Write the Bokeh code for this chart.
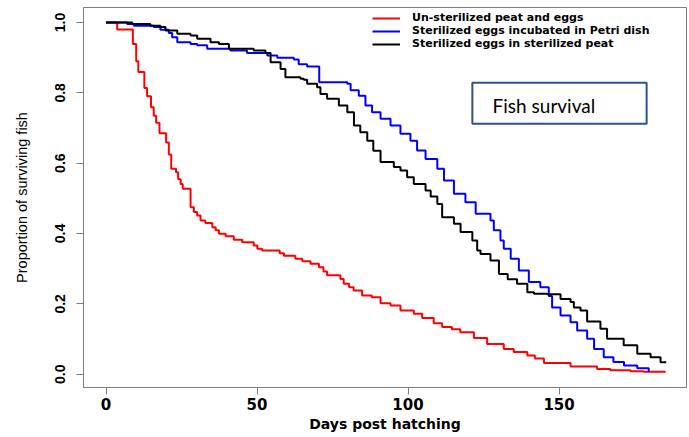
from bokeh.plotting import figure
from bokeh.models import Range1d, Legend, LegendItem, BoxAnnotation, Label, FixedTicker, NumeralTickFormatter
from bokeh.embed import file_html
from bokeh.resources import INLINE

# ---- data ----
red_days = [0, 3.7, 8.9, 10.0, 10.7, 12.7, 13.6, 14.9, 15.8, 16.6, 17.7, 19.9, 20.8, 21.6, 23.2, 23.9,
            24.7, 25.4, 28.0, 29.1, 30.2, 31.3, 32.9, 35.2, 36.3, 37.4, 39.6, 42.3, 45.1, 48.9, 50.1,
            51.7, 57.5, 58.9, 62.7, 65.0, 67.7, 70.5, 72.0, 73.2, 77.6, 78.7, 80.5, 82.0, 84.8, 88.0,
            90.9, 94.2, 97.5, 101.9, 104.7, 108.5, 111.3, 114.5, 117.3, 121.8, 126.2, 131.7, 135.0,
            139.5, 142.0, 145.0, 153.8, 162.6, 167.0, 173.7, 178.0, 185.3]
red_surv = [1.0, 0.98, 0.939, 0.89, 0.859, 0.814, 0.79, 0.759, 0.735, 0.715, 0.685, 0.659, 0.625, 0.584,
            0.574, 0.554, 0.541, 0.527, 0.475, 0.461, 0.451, 0.437, 0.430, 0.418, 0.409, 0.399, 0.392,
            0.382, 0.375, 0.366, 0.357, 0.352, 0.344, 0.337, 0.328, 0.321, 0.314, 0.304, 0.292, 0.281,
            0.271, 0.257, 0.247, 0.238, 0.224, 0.219, 0.202, 0.195, 0.181, 0.172, 0.160, 0.145, 0.134,
            0.128, 0.119, 0.103, 0.086, 0.072, 0.063, 0.053, 0.045, 0.032, 0.022, 0.015, 0.011, 0.0085,
            0.007, 0.007]

blue_days = [0, 7.0, 9.2, 15.8, 18.0, 20.8, 21.9, 23.6, 28.0, 30.2, 33.5, 41.2, 46.7, 53.4, 56.7, 62.2,
             63.8, 66.6, 70.6, 79.9, 81.0, 83.7, 85.9, 88.1, 90.9, 94.2, 97.5, 100.8, 103.0, 105.8,
             109.7, 111.9, 115.2, 119.0, 122.4, 127.3, 128.4, 130.6, 131.7, 134.0, 136.7, 140.0, 143.8,
             146.6, 147.7, 150.5, 153.8, 156.0, 159.3, 161.6, 164.8, 168.0, 171.5, 175.9, 179.7]
blue_surv = [1.0, 0.996, 0.991, 0.987, 0.979, 0.970, 0.958, 0.944, 0.939, 0.935, 0.925, 0.920, 0.913,
             0.906, 0.900, 0.895, 0.881, 0.875, 0.830, 0.826, 0.807, 0.792, 0.764, 0.745, 0.726, 0.707,
             0.684, 0.664, 0.636, 0.612, 0.584, 0.551, 0.513, 0.489, 0.456, 0.437, 0.409, 0.380, 0.357,
             0.328, 0.295, 0.262, 0.247, 0.222, 0.190, 0.167, 0.148, 0.124, 0.101, 0.072, 0.048, 0.035,
             0.025, 0.017, 0.006]

black_days = [0, 8.7, 14.7, 18.0, 19.7, 23.6, 28.0, 30.2, 34.6, 37.4, 40.7, 48.9, 52.8, 54.5, 57.8, 59.4,
              64.4, 65.5, 66.6, 69.9, 71.0, 73.2, 77.1, 79.9, 82.1, 84.2, 86.5, 88.5, 90.9, 95.3, 97.5,
              99.7, 101.9, 105.8, 107.5, 109.7, 111.3, 115.2, 117.4, 121.3, 122.9, 124.0, 127.3, 130.1,
              133.0, 136.1, 139.5, 141.7, 146.1, 150.5, 153.8, 154.9, 157.1, 159.3, 163.7, 165.9, 171.4,
              175.9, 180.3, 183.6, 185.5]
black_surv = [1.0, 0.996, 0.991, 0.987, 0.977, 0.968, 0.963, 0.954, 0.944, 0.939, 0.925, 0.920, 0.913,
              0.887, 0.868, 0.844, 0.840, 0.837, 0.826, 0.816, 0.797, 0.783, 0.764, 0.745, 0.707, 0.688,
              0.664, 0.635, 0.603, 0.589, 0.579, 0.560, 0.541, 0.522, 0.505, 0.484, 0.446, 0.428, 0.404,
              0.380, 0.352, 0.342, 0.323, 0.285, 0.270, 0.257, 0.233, 0.229, 0.227, 0.214, 0.205, 0.190,
              0.181, 0.150, 0.129, 0.101, 0.082, 0.058, 0.048, 0.034, 0.034]

series_names = ["Un-sterilized peat and eggs",
                "Sterilized eggs incubated in Petri dish",
                "Sterilized eggs in sterilized peat"]
series_colors = ["#FF0000", "#0000FF", "#000000"]

x_ticks = [0, 50, 100, 150]
x_tick_labels = ["0", "50", "100", "150"]
y_ticks = [0.0, 0.2, 0.4, 0.6, 0.8, 1.0]
y_tick_labels = ["0.0", "0.2", "0.4", "0.6", "0.8", "1.0"]

x_title = "Days post hatching"
y_title = "Proportion of surviving fish"
box_text = "Fish survival"

# ---- figure ----
p = figure(width=689, height=437, output_backend="svg", toolbar_location=None,
           x_range=Range1d(-7.45, 192.2), y_range=Range1d(-0.0378, 1.0426),
           min_border_left=83, min_border_right=3, min_border_top=7, min_border_bottom=50)
p.background_fill_color = "white"
p.border_fill_color = "white"
p.outline_line_color = "#7f7f7f"
p.outline_line_width = 1
p.xgrid.visible = False
p.ygrid.visible = False

axis_gray = "#7f7f7f"
for ax in (p.xaxis[0], p.yaxis[0]):
    ax.axis_line_color = axis_gray
    ax.major_tick_line_color = axis_gray
    ax.minor_tick_line_color = None
    ax.major_tick_in = 0
    ax.major_tick_out = 7
    ax.major_label_text_color = "black"
    ax.major_label_text_font_style = "bold"

p.xaxis.ticker = FixedTicker(ticks=x_ticks)
p.xaxis.major_label_overrides = dict(zip(x_ticks, x_tick_labels))
p.xaxis.major_label_text_font = "DejaVu Sans"
p.xaxis.major_label_text_font_size = "15px"
p.xaxis.major_label_standoff = 3
p.xaxis.axis_label = x_title
p.xaxis.axis_label_text_font = "DejaVu Sans"
p.xaxis.axis_label_text_font_style = "bold"
p.xaxis.axis_label_text_font_size = "14px"
p.xaxis.axis_label_text_color = "black"
p.xaxis.axis_label_standoff = 3

p.yaxis.ticker = FixedTicker(ticks=y_ticks)
p.yaxis.formatter = NumeralTickFormatter(format="0.0")
p.yaxis.major_label_overrides = dict(zip(y_ticks, y_tick_labels))
p.yaxis.major_label_orientation = "vertical"
p.yaxis.major_label_text_font = "Liberation Sans"
p.yaxis.major_label_text_font_size = "14px"
p.yaxis.major_label_standoff = 11
p.yaxis.axis_label = y_title
p.yaxis.axis_label_text_font = "Liberation Sans"
p.yaxis.axis_label_text_font_style = "normal"
p.yaxis.axis_label_text_font_size = "14.5px"
p.yaxis.axis_label_text_color = "black"
p.yaxis.axis_label_standoff = 23

renderers = []
for days, surv, col in [(red_days, red_surv, series_colors[0]),
                        (blue_days, blue_surv, series_colors[1]),
                        (black_days, black_surv, series_colors[2])]:
    r = p.step(days, surv, mode="after", line_color=col, line_width=2)
    renderers.append(r)

legend = Legend(items=[LegendItem(label=n, renderers=[r]) for n, r in zip(series_names, renderers)],
                location=(289, 337), orientation="vertical",
                glyph_width=28, glyph_height=12, label_height=12, label_standoff=12,
                spacing=-4, padding=0, margin=0,
                label_text_font="DejaVu Sans", label_text_font_style="bold",
                label_text_font_size="11px", label_text_color="black",
                border_line_alpha=0, background_fill_alpha=0)
p.add_layout(legend)

box = BoxAnnotation(left=121.3, right=179.0, bottom=0.712, top=0.8285,
                    fill_color="white", fill_alpha=1.0,
                    line_color="#2F528F", line_alpha=1.0, line_width=2)
p.add_layout(box)
p.add_layout(Label(x=128.0, y=0.765, text=box_text, text_align="left", text_baseline="middle",
                   text_font="Lato", text_font_size="19px", text_color="black"))

open("out.html", "w").write(file_html(p, INLINE))
